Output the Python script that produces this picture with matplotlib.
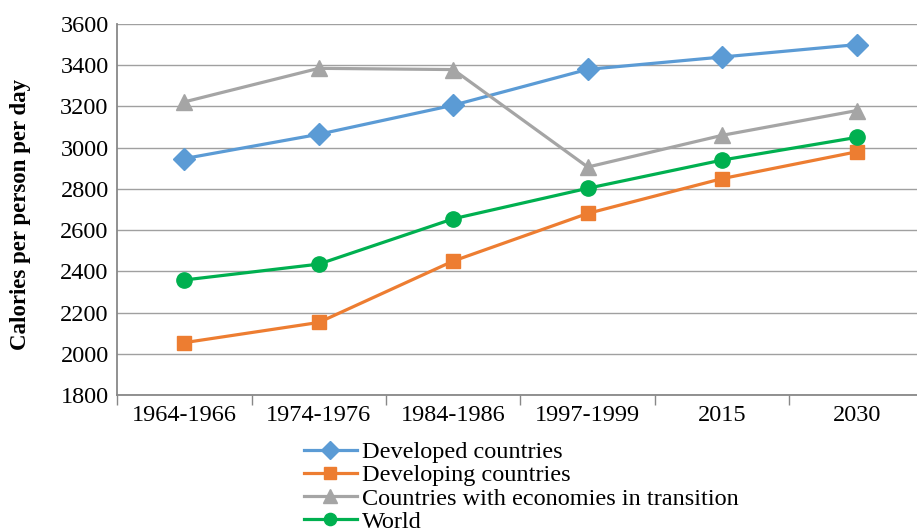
import numpy as np
import matplotlib.pyplot as plt

# 데이터
periods = ['1964-1966', '1974-1976', '1984-1986', '1997-1999', '2015', '2030']
developed = [2947, 3065, 3206, 3380, 3440, 3500]
developing = [2054, 2152, 2450, 2681, 2850, 2980]
transition = [3222, 3385, 3379, 2906, 3060, 3180]
world = [2358, 2435, 2655, 2803, 2940, 3050]

plt.rcParams['font.family'] = ['Liberation Serif', 'DejaVu Serif']

fig = plt.figure(figsize=(9.17, 5.29), dpi=100)
ax = fig.add_axes([0.1276, 0.2533, 0.880, 0.7013])

x = np.arange(len(periods))
series = [
    ('Developed countries', developed, '#5B9BD5', 'D', 11),
    ('Developing countries', developing, '#ED7D31', 's', 10),
    ('Countries with economies in transition', transition, '#A5A5A5', '^', 12),
    ('World', world, '#00B050', 'o', 11),
]
for name, vals, col, mk, ms in series:
    ax.plot(x, vals, color=col, lw=2.3, marker=mk, markersize=ms, label=name,
            clip_on=False, zorder=3)

ax.set_xlim(-0.5, len(periods) - 0.5)
ax.set_ylim(1800, 3600)
ax.set_yticks(np.arange(1800, 3601, 200))
ax.yaxis.grid(True, color='#A0A0A0', lw=1.0)
ax.set_axisbelow(True)

ax.set_xticks(x)
ax.set_xticklabels(periods)
ax.set_xticks(np.arange(-0.5, len(periods)), minor=True)
ax.tick_params(axis='x', which='major', length=0, pad=7, labelsize=17.5)
ax.tick_params(axis='x', which='minor', length=7, direction='out', color='#888888', width=1)
ax.tick_params(axis='y', length=0, pad=6, labelsize=17.5)

for s in ['top', 'right']:
    ax.spines[s].set_visible(False)
for s in ['left', 'bottom']:
    ax.spines[s].set_color('#888888')
    ax.spines[s].set_linewidth(1.3)

fig.text(0.022, 0.594, 'Calories per person per day', rotation=90, fontsize=16.5,
         fontweight='bold', ha='center', va='center')

fig.legend(loc='upper left', bbox_to_anchor=(0.331, 0.166), frameon=False,
           fontsize=17.5, labelspacing=0.05, handlelength=2.2, handletextpad=0.2,
           markerscale=0.8, borderpad=0, borderaxespad=0)

fig.savefig('out.png', dpi=100)
